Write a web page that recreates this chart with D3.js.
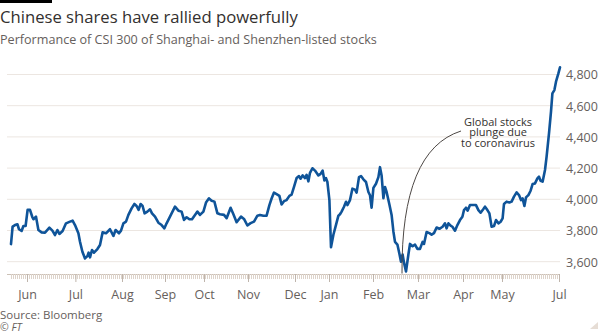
<!DOCTYPE html>
<html>
<head>
<meta charset="utf-8">
<script src="https://cdn.jsdelivr.net/npm/d3@7"></script>
<style>
  html, body { margin: 0; padding: 0; background: #ffffff; }
  svg { display: block; }
  text { font-family: "Open Sans", "Noto Sans", sans-serif; }
</style>
</head>
<body>
<svg id="chart" width="602" height="333"></svg>
<script>
// ---- data ----
const sessionIdx = [0,0.8,2,3.2,4,5.3,6.2,7.3,8.3,9.5,10.7,11.2,12.5,13.7,15.3,17,19.2,20.7,22,23.2,24.2,25.8,27.5,29.5,30.8,32,33.7,34.5,35.7,37,38.2,38.8,39.5,40.5,41.5,43.2,44.5,45.8,47.5,49.5,51.2,52.3,54,55,56.2,57.5,58.7,60.3,61.7,62.8,63.8,64.8,65.8,66.8,68.2,69.5,70.5,72,73.7,75.3,76.7,77.8,79.5,82,83.7,85.3,86.5,87.8,89.2,90.5,92,93.2,94.5,96.2,97.5,99,100.3,101.7,103.2,104.5,106.5,107.8,109.8,111.2,112.8,115,116.5,118.2,119.8,121.5,123.2,124.5,126.2,127.8,129.2,130.3,131.5,133.2,134.2,135.3,136.5,137.8,139.2,140.3,141.5,142.8,144,144.8,145.8,147,147.8,148.7,149.5,150.7,152,153.7,154.8,155.8,156.7,157.5,158.2,159.2,160,161.2,162.5,163.7,164.5,165.3,166.5,167.5,168.2,169.5,170.7,172,172.8,174,175,176.2,177.5,178.7,179.5,180.3,181.2,182.5,183.7,184.5,185.3,186.2,187,187.8,189.2,190.3,191.2,192,193.2,194.2,195,195.8,196.5,197.5,198.7,199.5,200.8,202,203.2,204.5,205.8,206.5,207.8,209.2,210.3,211.5,212.8,214.2,215.8,217,217.8,218.7,219.8,220.7,222,223.2,224.5,225.7,226.5,227.5,228.3,229.5,230.8,232.5,233.7,234.8,236.2,237,238.2,239.2,240.3,241.5,242.5,243.7,244.8,245.8,246.5,247.8,249.2,250.3,251.5,252.8,254,255,255.8,256.7,257.5,258.7,259.8,260.8,262,263.2,264,264.8,265.8,267,267.8,269,270,270.7,271.7,272.5,273.7,274.5];
const csi300 = [3713,3825,3835,3840,3808,3797,3829,3829,3932,3932,3885,3872,3889,3803,3788,3786,3818,3799,3771,3803,3778,3797,3846,3857,3863,3835,3782,3728,3664,3621,3636,3658,3628,3675,3658,3681,3707,3788,3782,3808,3765,3803,3782,3799,3846,3857,3900,3942,3970,3957,3932,3970,3957,3910,3921,3936,3910,3889,3850,3835,3814,3846,3889,3953,3927,3921,3868,3885,3872,3872,3900,3921,3900,3921,3979,4006,3991,3985,3910,3904,3900,3879,3946,3904,3853,3889,3874,3832,3847,3857,3895,3900,3895,3895,3963,4005,4043,4030,4022,3967,3988,3995,4022,4030,4079,4136,4149,4132,4153,4136,4157,4115,4170,4199,4184,4153,4163,4184,4121,4136,4111,3995,3693,3773,3836,3895,3904,3921,3952,3984,3963,3995,4068,4062,4043,4142,4149,4128,4111,4047,4026,3946,4073,4100,4142,4206,4153,4007,4079,4047,3967,3900,3794,3727,3710,3651,3600,3646,3594,3537,3646,3714,3699,3710,3682,3682,3727,3714,3790,3783,3773,3783,3819,3811,3824,3846,3814,3846,3831,3824,3799,3835,3867,3888,3931,3946,3927,3963,3963,3963,3931,3914,3938,3953,3931,3910,3824,3829,3867,3846,3856,3878,3970,3985,3980,3985,4017,4044,4027,3995,4006,3957,4012,4027,4055,4098,4102,4134,4145,4119,4113,4188,4273,4423,4562,4679,4700,4754,4807,4846];
const monthLabels = ["Jun","Jul","Aug","Sep","Oct","Nov","Dec","Jan","Feb","Mar","Apr","May","Jul"];
const monthTickIdx = [8,32.2,55.5,77,96.5,118.5,142,159,181,203.5,226,245.5,274];
const yTickValues = [3600,3800,4000,4200,4400,4600,4800];
const titleText = "Chinese shares have rallied powerfully";
const subtitleText = "Performance of CSI 300 of Shanghai- and Shenzhen-listed stocks";
const sourceText = "Source: Bloomberg";
const creditText = "\u00A9 FT";
const noteLines = ["Global stocks", "plunge due", "to coronavirus"];
const minIndex = 197.5; // session of the March low the note points to
const minValue = 3537;

// ---- layout ----
const svg = d3.select("#chart");
const x = d3.scaleLinear().domain([0, 274.5]).range([11, 560]);
const y = d3.scaleLinear().domain([3600, 4800]).range([261.7, 74.5]);
const axisY = 274;
const gridLeft = 7, gridRight = 560;

// top black bar
svg.append("rect").attr("x", 0).attr("y", 0).attr("width", 52).attr("height", 3).attr("fill", "#000");

function fitText(sel, target) {
  const w = sel.node().getComputedTextLength();
  const fs = parseFloat(sel.attr("font-size"));
  sel.attr("font-size", (fs * target / w).toFixed(2));
}

const title = svg.append("text").attr("x", 0).attr("y", 23)
  .attr("font-size", 17).attr("fill", "#33302e").text(titleText);
fitText(title, 298);
const sub = svg.append("text").attr("x", 0).attr("y", 43.5)
  .attr("font-size", 12).attr("fill", "#66605c").text(subtitleText);
fitText(sub, 377);

// gridlines
svg.append("g").selectAll("line").data(yTickValues).join("line")
  .attr("x1", gridLeft).attr("x2", gridRight)
  .attr("y1", d => y(d)).attr("y2", d => y(d))
  .attr("stroke", "#ece6e1").attr("stroke-width", 1);

// y axis labels on the right
const yAxis = d3.axisRight(y).tickValues(yTickValues).tickSize(0).tickPadding(0)
  .tickFormat(d3.format(","));
const gy = svg.append("g").attr("transform", `translate(566,0)`).call(yAxis);
gy.select(".domain").remove();
gy.selectAll("text").attr("font-size", 12.5).attr("fill", "#66605c")
  .attr("font-family", "\"Open Sans\", sans-serif").attr("dy", "0.35em");

// x axis: baseline, minor ticks each session, month ticks
const minorTicks = d3.range(0, 275, 1);
const gx = svg.append("g").attr("transform", `translate(0,${axisY})`)
  .call(d3.axisBottom(x).tickValues(minorTicks).tickSize(5).tickFormat(""));
gx.select(".domain").attr("d", `M${gridLeft},0.5H${gridRight}`).attr("stroke", "#ccc1b7");
gx.selectAll(".tick line").attr("stroke", "#ddd3ca");

const gm = svg.append("g").attr("transform", `translate(0,${axisY})`)
  .call(d3.axisBottom(x).tickValues(monthTickIdx).tickSize(8).tickPadding(8)
    .tickFormat((d, i) => monthLabels[i]));
gm.select(".domain").remove();
gm.selectAll(".tick line").attr("stroke", "#bfb5ac");
gm.selectAll("text").attr("font-size", 12.5).attr("fill", "#66605c")
  .attr("font-family", "\"Open Sans\", sans-serif");

// line
const pts = sessionIdx.map((d, i) => [d, csi300[i]]);
svg.append("path").datum(pts)
  .attr("fill", "none").attr("stroke", "#0f5499").attr("stroke-width", 2.6)
  .attr("stroke-linejoin", "round").attr("stroke-linecap", "round")
  .attr("d", d3.line().x(d => x(d[0])).y(d => y(d[1])));

// annotation
const noteX = 498;
const note = svg.append("text").attr("text-anchor", "middle")
  .attr("font-size", 11).attr("fill", "#33302e");
noteLines.forEach((t, i) => {
  note.append("tspan").attr("x", noteX).attr("y", 125.5 + i * 10.6).text(t);
});
const px0 = 461, py0 = 131;
const px1 = x(minIndex) - 4, py1 = y(minValue) + 2;
const ctrl = [401, 150];
svg.append("path")
  .attr("d", `M${px0},${py0}Q${ctrl[0]},${ctrl[1]} ${px1},${py1}`)
  .attr("fill", "none").attr("stroke", "#4d4845").attr("stroke-width", 1);

// source and credit
svg.append("text").attr("x", 0).attr("y", 319)
  .attr("font-size", 11.5).attr("fill", "#66605c").text(sourceText);
svg.append("text").attr("x", 0).attr("y", 330.5)
  .attr("font-size", 10.5).attr("font-style", "italic").attr("fill", "#66605c").text(creditText);

// corner ornament
svg.append("path").attr("d", "M598,322L598,329L590,329Z").attr("fill", "#e6ddd5");
</script>
</body>
</html>
